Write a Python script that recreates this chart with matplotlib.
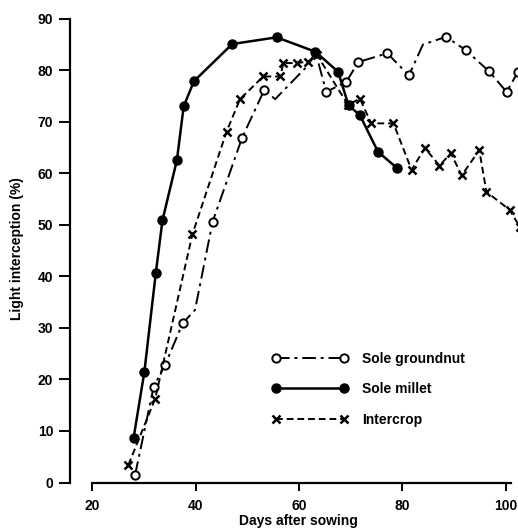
import matplotlib
matplotlib.use("Agg")
import matplotlib.pyplot as plt
from matplotlib.lines import Line2D

plt.rcParams['font.family'] = ['Liberation Sans', 'DejaVu Sans']
plt.rcParams['font.weight'] = 'bold'

# Sole millet
millet_days = [28.0, 30.1, 32.3, 33.6, 36.4, 37.7, 39.7, 47.1, 55.7, 63.2, 67.6, 69.6, 71.8, 75.3, 78.9]
millet = [8.6, 21.5, 40.6, 50.9, 62.6, 73.0, 77.9, 85.1, 86.4, 83.6, 79.7, 73.2, 71.3, 64.2, 61.1]

# Sole groundnut (some points are only bends of the line, no marker)
gn_days = [28.3, 31.9, 34.1, 37.5, 39.9, 43.3, 49.0, 53.3, 55.4, 61.8, 63.2, 65.3, 69.2,
           71.5, 77.1, 81.3, 84.0, 88.5, 92.3, 96.8, 100.2, 102.4]
gn = [1.5, 18.6, 22.8, 30.9, 33.5, 50.6, 66.9, 76.2, 74.4, 81.0, 83.6, 75.8, 77.8,
      81.6, 83.3, 79.0, 85.0, 86.5, 83.9, 79.8, 75.8, 79.7]
gn_marked = [0, 1, 2, 3, 5, 6, 7, 11, 12, 13, 14, 15, 17, 18, 19, 20, 21]

# Intercrop
ic_days = [27.0, 32.2, 39.4, 46.0, 48.6, 53.1, 56.4, 57.0, 59.6, 61.8, 63.5, 69.5, 71.8,
           74.0, 78.3, 81.8, 84.4, 87.2, 89.4, 91.5, 94.9, 96.3, 100.8, 102.8]
ic = [3.4, 16.3, 48.2, 68.1, 74.4, 78.8, 78.8, 81.4, 81.4, 81.7, 83.0, 73.3, 74.5,
      69.7, 69.7, 60.7, 64.9, 61.5, 63.9, 59.6, 64.5, 56.4, 52.9, 49.5]

yticks = [0, 10, 20, 30, 40, 50, 60, 70, 80, 90]
xticks = [20, 40, 60, 80, 100]

fig = plt.figure(figsize=(5.18, 5.30), dpi=100)
ax = fig.add_axes([0.1351, 0.0896, 0.8649, 0.8915])

gn_style = dict(color='black', lw=1.4, linestyle=(0, (7, 2.5, 1.5, 2.5)),
                marker='o', ms=6, mfc='white', mec='black', mew=1.4)
ml_style = dict(color='black', lw=1.8, linestyle='-', marker='o', ms=6.5,
                mfc='black', mec='black')
ic_style = dict(color='black', lw=1.4, linestyle=(0, (3.5, 2)), marker='x', ms=6, mew=1.8)

ax.plot(gn_days, gn, markevery=gn_marked, zorder=3, **gn_style)
ax.plot(ic_days, ic, zorder=3, **ic_style)
ax.plot(millet_days, millet, zorder=4, **ml_style)

ax.set_xlim(15.7, 102.4)
ax.set_ylim(0, 91.7)
ax.spines['top'].set_visible(False)
ax.spines['right'].set_visible(False)
ax.spines['left'].set_bounds(0, 90)
ax.spines['bottom'].set_bounds(20, 101)
ax.spines['left'].set_linewidth(1.6)
ax.spines['bottom'].set_linewidth(1.6)

ax.set_yticks(yticks)
ax.set_xticks(xticks)
ax.tick_params(axis='y', direction='out', length=8, width=1.4, pad=4, labelsize=10)
ax.tick_params(axis='x', direction='out', length=6, width=1.4, pad=6, labelsize=10)

ax.set_ylabel('Light interception (%)', fontsize=10, fontweight='bold')
ax.set_xlabel('Days after sowing', fontsize=10, fontweight='bold')
ax.yaxis.set_label_coords(-0.103, 0.496)
ax.xaxis.set_label_coords(0.511, -0.066)

handles = [Line2D([], [], **gn_style), Line2D([], [], **ml_style), Line2D([], [], **ic_style)]
labels = ['Sole groundnut', 'Sole millet', 'Intercrop']
ax.legend(handles, labels, loc='center left', bbox_to_anchor=(272 / 518, 0.2657),
          bbox_transform=fig.transFigure, frameon=False, numpoints=2,
          handlelength=5.5, handletextpad=1.0, labelspacing=1.2, borderpad=0,
          borderaxespad=0, prop={'size': 10, 'weight': 'bold'})

fig.savefig('out.png', dpi=100)
